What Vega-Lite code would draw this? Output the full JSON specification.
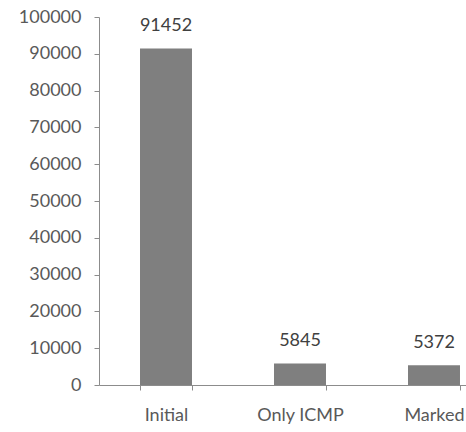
{
  "$schema": "https://vega.github.io/schema/vega-lite/v6.json",
  "autosize": "none",
  "width": 368,
  "height": 368,
  "padding": {"left": 99, "top": 17, "right": 0, "bottom": 47},
  "background": "white",
  "config": {
    "view": {"stroke": null},
    "font": "Lato",
    "axis": {"grid": false, "domainColor": "#8c8c8c", "tickColor": "#8c8c8c", "labelColor": "#595959", "labelFont": "Lato", "labelFontSize": 18, "titleFontSize": 0}
  },
  "data": {
    "values": [
      {"category": "Initial", "value": 91452},
      {"category": "Only ICMP", "value": 5845},
      {"category": "Marked", "value": 5372}
    ]
  },
  "encoding": {
    "x": {
      "field": "category", "type": "nominal", "sort": null,
      "scale": {"range": [0, 402], "paddingInner": 0.612, "paddingOuter": 0.306},
      "axis": {"title": null, "labelAngle": 0, "labelPadding": 16, "tickBand": "extent", "tickSize": 5, "domainWidth": 1}
    },
    "y": {
      "field": "value", "type": "quantitative",
      "scale": {"domain": [0, 100000], "nice": false},
      "axis": {"title": null, "values": [0,10000,20000,30000,40000,50000,60000,70000,80000,90000,100000], "format": "d", "tickSize": 5, "labelPadding": 13}
    }
  },
  "layer": [
    {"mark": {"type": "bar", "color": "#7f7f7f"}},
    {"mark": {"type": "text", "baseline": "bottom", "dy": -13, "fontSize": 18, "color": "#404040", "font": "Lato"},
     "encoding": {"text": {"field": "value", "type": "quantitative", "format": "d"}}}
  ]
}
